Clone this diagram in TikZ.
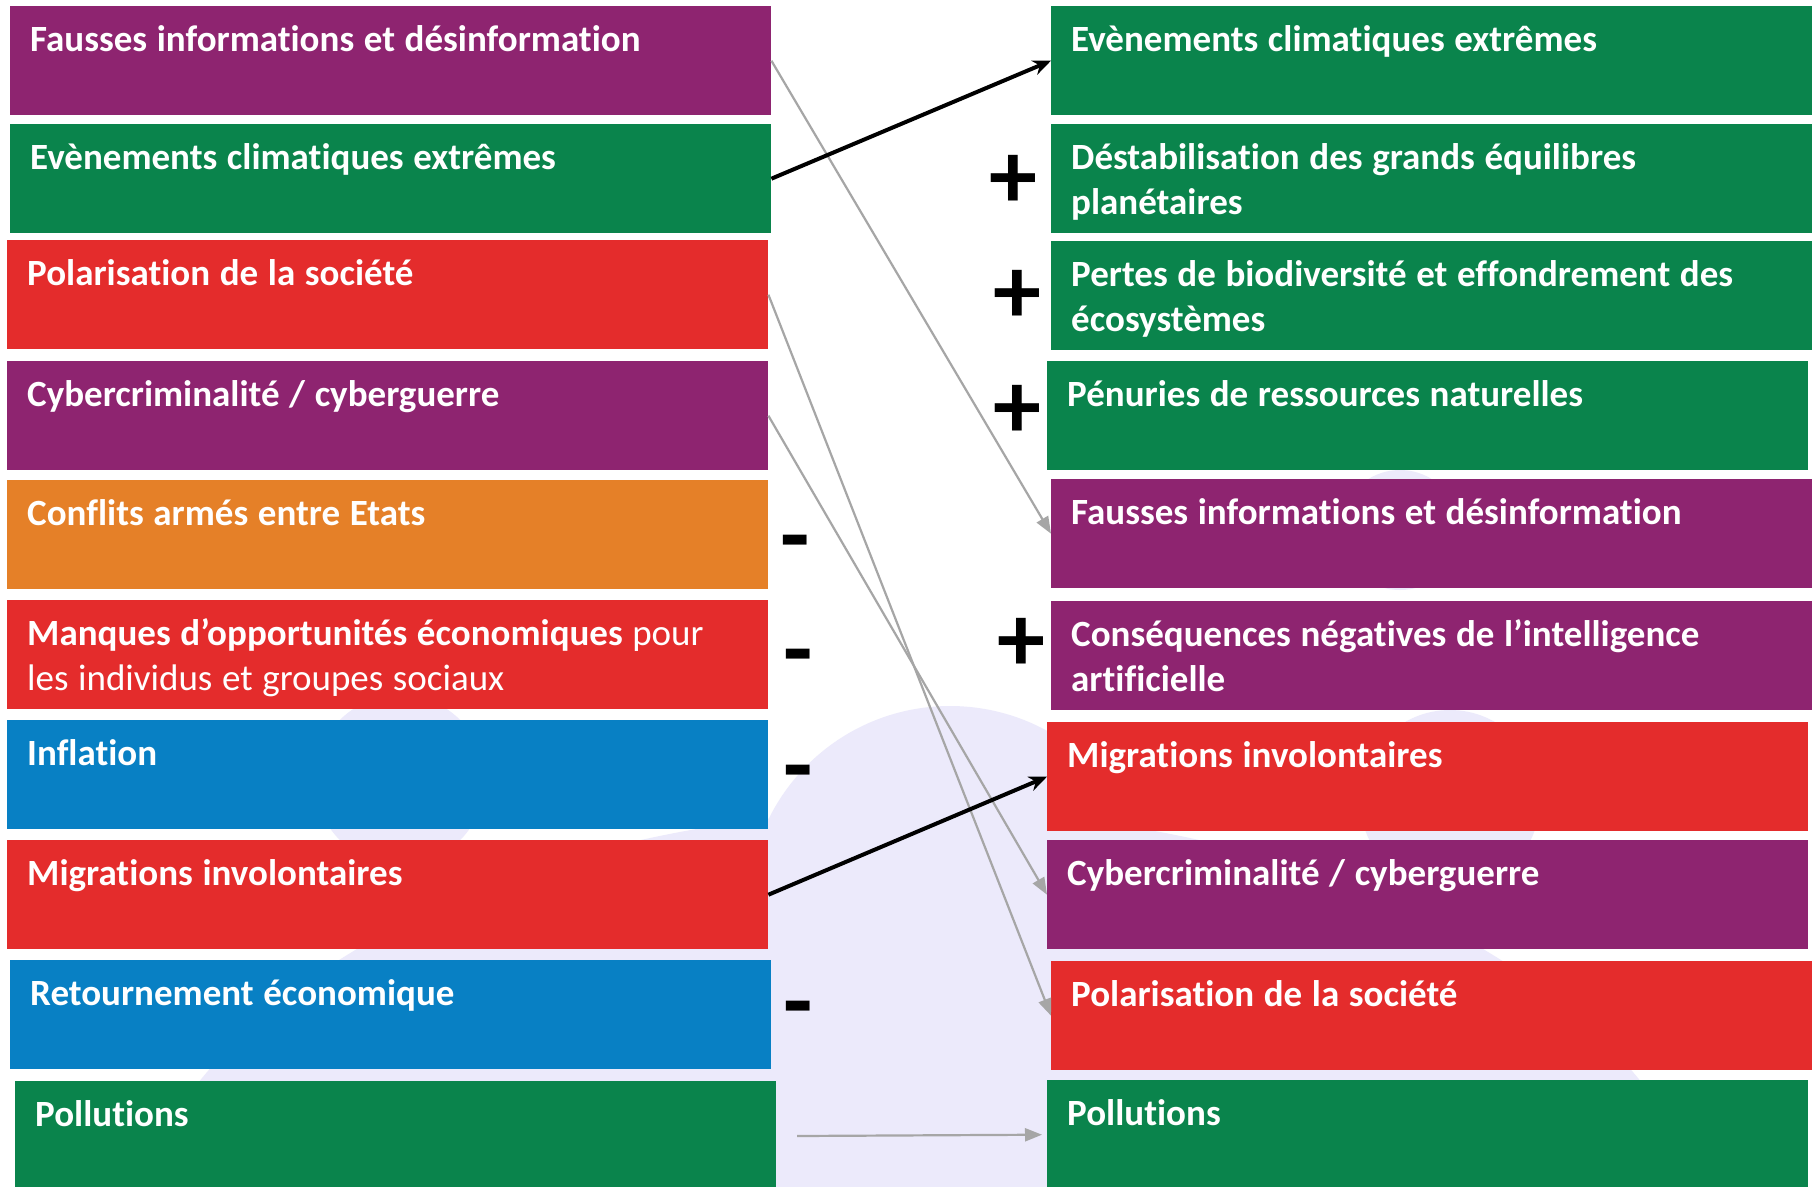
\documentclass[tikz,border=0pt]{standalone}
\usepackage{fontspec}
\setmainfont{Carlito}[RawFeature={-liga;-clig}]
\usetikzlibrary{arrows.meta}
\definecolor{violetR}{HTML}{8E2470}
\definecolor{vertR}{HTML}{0A844C}
\definecolor{rougeR}{HTML}{E42C2C}
\definecolor{orangeR}{HTML}{E58028}
\definecolor{bleuR}{HTML}{0880C4}
\definecolor{grisR}{HTML}{A6A6A6}
\definecolor{lavande}{HTML}{ECEAFB}
\newcommand\espacerisque{\spaceskip=0.26em plus 0.05em\relax}
\begin{document}
\begin{tikzpicture}[x=1bp,y=-1bp, line join=round,
    risque/.style={fill=#1, text=white, anchor=north west, inner xsep=20bp, inner ysep=0pt,
        text width=721bp, text height=45bp, text depth=64bp, align=left,
        font=\fontsize{37bp}{45bp}\selectfont\bfseries,
        execute at begin node=\espacerisque},
    lien/.style={-{Stealth[length=18bp,width=15bp]}, line width=4bp},
    lienfaible/.style={-{Triangle[length=17bp,width=13bp]}, line width=2.2bp, draw=grisR},
    signe/.style={inner sep=0pt, font=\fontsize{96bp}{96bp}\selectfont\bfseries}]
    \useasboundingbox (0,0) rectangle (1819,1186);
    \clip (0,0) rectangle (1819,1186);
    \fill[white] (0,0) rectangle (1819,1186);
    % fond
    \fill[lavande] (950,908) circle (202);
    \fill[lavande] (920,1290) ellipse (800 and 480);
    \fill[lavande] (400,780) circle (85);
    \fill[lavande] (1400,530) circle (60);
    \fill[lavande] (1620,530) circle (50);
    \fill[lavande] (1450,800) circle (90);
    % colonne gauche
    \node[risque=violetR] (g1) at (10,6) {Fausses informations et désinformation};
    \node[risque=vertR] (g2) at (10,124) {Evènements climatiques extrêmes};
    \node[risque=rougeR] (g3) at (7,240) {Polarisation de la société};
    \node[risque=violetR] (g4) at (7,361) {Cybercriminalité / cyberguerre};
    \node[risque=orangeR] (g5) at (7,480) {Conflits armés entre Etats};
    \node[risque=rougeR] (g6) at (7,600) {Manques d’opportunités économiques \mdseries pour\\les individus et groupes sociaux};
    \node[risque=bleuR] (g7) at (7,720) {Inflation};
    \node[risque=rougeR] (g8) at (7,840) {Migrations involontaires};
    \node[risque=bleuR] (g9) at (10,960) {Retournement économique};
    \node[risque=vertR] (g10) at (15,1081) {Pollutions};
    % colonne droite
    \node[risque=vertR] (d1) at (1051,6) {Evènements climatiques extrêmes};
    \node[risque=vertR] (d2) at (1051,124) {Déstabilisation des grands équilibres\\planétaires};
    \node[risque=vertR] (d3) at (1051,241) {Pertes de biodiversité et effondrement des\\écosystèmes};
    \node[risque=vertR] (d4) at (1047,361) {Pénuries de ressources naturelles};
    \node[risque=violetR] (d5) at (1051,479) {Fausses informations et désinformation};
    \node[risque=violetR] (d6) at (1051,601) {Conséquences négatives de l’intelligence\\artificielle};
    \node[risque=rougeR] (d7) at (1047,722) {Migrations involontaires};
    \node[risque=violetR] (d8) at (1047,840) {Cybercriminalité / cyberguerre};
    \node[risque=rougeR] (d9) at (1051,961) {Polarisation de la société};
    \node[risque=vertR] (d10) at (1047,1080) {Pollutions};
    % signes
    \node[signe] (p1) at (1013,182) {+};
    \node[signe] (p2) at (1017,297) {+};
    \node[signe] (p3) at (1017,412) {+};
    \node[signe] (p4) at (1021,645) {+};
    \node[signe, anchor=north] (m1) at (795,535) {-};
    \node[signe, anchor=north] (m2) at (798,649) {-};
    \node[signe, anchor=north] (m3) at (798,765) {-};
    \node[signe, anchor=north] (m4) at (798,1001) {-};
    % liens
    \draw[lienfaible] (g1.east) -- (d5.west);
    \draw[lienfaible] (g3.east) -- (d9.west);
    \draw[lienfaible] (g4.east) -- (d8.west);
    \coordinate (p0) at (797,1136);
    \draw[lienfaible] (p0) -- ([xshift=-5bp]d10.west);
    \draw[lien] (g2.east) -- (d1.west);
    \draw[lien] (g8.east) -- (d7.west);
\end{tikzpicture}
\end{document}
